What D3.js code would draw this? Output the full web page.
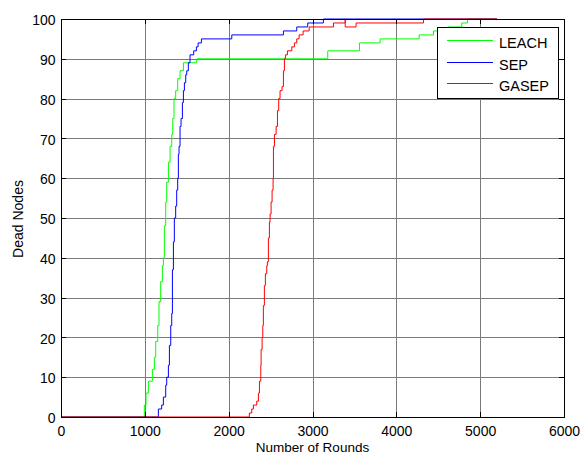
<!DOCTYPE html>
<html>
<head>
<meta charset="utf-8">
<script src="https://cdn.jsdelivr.net/npm/d3@7"></script>
<style>
  html, body { margin: 0; padding: 0; background: #fff; }
  svg { display: block; font-family: "Liberation Sans", Arial, sans-serif; }
</style>
</head>
<body>
<svg id="chart" width="582" height="455"></svg>
<script>
// ---- data ----
const xTicks = [0, 1000, 2000, 3000, 4000, 5000, 6000];
const yTicks = [0, 10, 20, 30, 40, 50, 60, 70, 80, 90, 100];
const seriesNames = ["LEACH", "SEP", "GASEP"];
const seriesColors = ["#00ff00", "#0000ff", "#ff0000"];

const leachRounds = [0, 994, 1014, 1042, 1090, 1114, 1130, 1154, 1169, 1189, 1209, 1221, 1233, 1249, 1261, 1281, 1301, 1321, 1333, 1348, 1368, 1392, 1420, 1460, 1619, 3182, 3560, 3807, 4272, 4443, 4620, 4781, 4849, 5200];
const leachDead   = [0, 3, 6, 9, 12, 15, 19, 23, 29, 34, 38, 40, 48, 54, 59, 64, 68, 71, 75, 80, 82, 85, 87, 89, 90, 92, 94, 95, 96, 97, 98, 99, 100, 100];

const sepRounds = [0, 1161, 1201, 1221, 1249, 1261, 1281, 1293, 1309, 1321, 1329, 1341, 1352, 1368, 1380, 1392, 1400, 1408, 1420, 1432, 1448, 1460, 1472, 1488, 1500, 1519, 1539, 1583, 1615, 1635, 1675, 2037, 2653, 2812, 2943, 3130, 5200];
const sepDead   = [0, 2, 3, 5, 8, 10, 13, 18, 23, 26, 37, 44, 50, 53, 57, 60, 66, 68, 73, 75, 79, 82, 84, 86, 87, 89, 91, 92, 93, 94, 95, 96, 97, 98, 99, 100, 100];

const gasepRounds = [0, 2235, 2247, 2275, 2295, 2335, 2355, 2367, 2383, 2387, 2399, 2407, 2414, 2426, 2438, 2454, 2462, 2474, 2486, 2494, 2506, 2518, 2530, 2534, 2546, 2566, 2582, 2597, 2613, 2637, 2653, 2665, 2677, 2701, 2753, 2784, 2812, 2840, 2888, 2960, 3250, 3390, 3390, 3520, 4324, 5200];
const gasepDead   = [0, 0, 1, 2, 3, 4, 6, 9, 13, 17, 20, 23, 28, 33, 36, 38, 39, 45, 49, 51, 54, 57, 60, 68, 71, 73, 77, 80, 82, 83, 87, 90, 91, 92, 93, 94, 95, 96, 97, 98, 99, 100, 98, 99, 100, 100];

const xLabel = "Number of Rounds";
const yLabel = "Dead Nodes";

// ---- layout ----
const mL = 61, mR = 564, mT = 19, mB = 417;
const svg = d3.select("#chart");
const x = d3.scaleLinear().domain([0, 6000]).range([mL, mR]);
const y = d3.scaleLinear().domain([0, 100]).range([mB, mT]);
const H = mB - mT, W = mR - mL;

// grid
const gx = svg.append("g").attr("transform", `translate(0,${mB})`)
  .call(d3.axisBottom(x).tickValues(xTicks).tickSize(-H).tickFormat(""));
gx.select(".domain").remove();
gx.selectAll("line").attr("stroke", "#7a7a7a").attr("stroke-width", 1)
  .attr("shape-rendering", "crispEdges");
const gy = svg.append("g").attr("transform", `translate(${mL},0)`)
  .call(d3.axisLeft(y).tickValues(yTicks).tickSize(-W).tickFormat(""));
gy.select(".domain").remove();
gy.selectAll("line").attr("stroke", "#7a7a7a").attr("stroke-width", 1)
  .attr("shape-rendering", "crispEdges");

// series
const series = [
  {r: leachRounds, v: leachDead},
  {r: sepRounds, v: sepDead},
  {r: gasepRounds, v: gasepDead}
];
const line = d3.line().x(d => x(d[0])).y(d => y(d[1])).curve(d3.curveStepAfter);
series.forEach((s, i) => {
  const pts = s.r.map((r, k) => [r, s.v[k]]);
  svg.append("path").datum(pts).attr("d", line)
    .attr("fill", "none").attr("stroke", seriesColors[i]).attr("stroke-width", 1);
});

// axes (inward ticks, MATLAB style)
const axB = svg.append("g").attr("transform", `translate(0,${mB})`)
  .call(d3.axisBottom(x).tickValues(xTicks).tickSizeInner(-5).tickSizeOuter(0).tickPadding(9).tickFormat(d3.format("d")));
const axL = svg.append("g").attr("transform", `translate(${mL},0)`)
  .call(d3.axisLeft(y).tickValues(yTicks).tickSizeInner(-5).tickSizeOuter(0).tickPadding(5.5).tickFormat(d3.format("d")));
const axT = svg.append("g").attr("transform", `translate(0,${mT})`)
  .call(d3.axisTop(x).tickValues(xTicks).tickSizeInner(-5).tickSizeOuter(0).tickFormat(""));
const axR = svg.append("g").attr("transform", `translate(${mR},0)`)
  .call(d3.axisRight(y).tickValues(yTicks).tickSizeInner(-5).tickSizeOuter(0).tickFormat(""));
[axB, axL, axT, axR].forEach(a => {
  a.select(".domain").remove();
  a.selectAll("line").attr("stroke", "#000").attr("shape-rendering", "crispEdges");
  a.selectAll("text").attr("fill", "#000").attr("font-size", "14px")
    .attr("font-family", "'Liberation Sans', Arial, sans-serif");
});
axL.selectAll("text").attr("dy", "0.40em");

// frame
svg.append("rect").attr("x", mL).attr("y", mT).attr("width", W).attr("height", H)
  .attr("fill", "none").attr("stroke", "#000").attr("stroke-width", 1)
  .attr("shape-rendering", "crispEdges");

// axis titles
svg.append("text").attr("x", (mL + mR) / 2).attr("y", 452)
  .attr("text-anchor", "middle").attr("font-size", "13.5px").text(xLabel);
svg.append("text").attr("transform", `translate(22.5,${(mT + mB) / 2 + 1}) rotate(-90)`)
  .attr("text-anchor", "middle").attr("font-size", "14px").text(yLabel);

// legend
const lg = svg.append("g");
lg.append("rect").attr("x", 437).attr("y", 27).attr("width", 121).attr("height", 71)
  .attr("fill", "#fff").attr("stroke", "#000").attr("stroke-width", 1)
  .attr("shape-rendering", "crispEdges");
const rowY = [40.5, 62.5, 83.5];
seriesNames.forEach((n, i) => {
  lg.append("line").attr("x1", 447).attr("x2", 493).attr("y1", rowY[i]).attr("y2", rowY[i])
    .attr("stroke", seriesColors[i]).attr("stroke-width", 1);
  lg.append("text").attr("x", 499).attr("y", rowY[i] + 7)
    .attr("font-size", "14.5px").attr("fill", "#000").text(n);
});
</script>
</body>
</html>
